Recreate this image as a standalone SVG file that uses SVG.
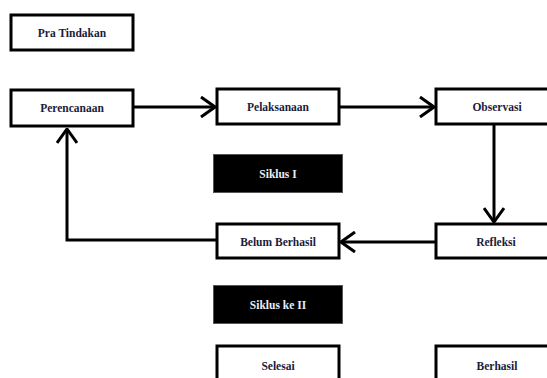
<svg xmlns="http://www.w3.org/2000/svg" width="547" height="378" viewBox="0 0 547 378">
<style>
.box{fill:#fff;stroke:#000;stroke-width:3}
.dark{fill:#000;stroke:#555;stroke-width:1}
.t{font-family:"Liberation Serif",serif;font-weight:bold;font-size:11.5px;fill:#1b1b3a;text-anchor:middle}
.tw{font-family:"Liberation Serif",serif;font-weight:bold;font-size:11.5px;fill:#e8eef8;text-anchor:middle}
.c{fill:none;stroke:#000;stroke-width:3}
</style>
<defs>
<marker id="ah" viewBox="0 0 16 22" refX="15" refY="11" markerWidth="16" markerHeight="22" markerUnits="userSpaceOnUse" orient="auto">
<path d="M1,1 L15,11 L1,21" fill="none" stroke="#000" stroke-width="3"/>
</marker>
</defs>
<rect width="547" height="378" fill="#fff"/>
<g id="connectors">
<line class="c" x1="134" y1="107" x2="215" y2="107" marker-end="url(#ah)"/>
<line class="c" x1="340" y1="107" x2="434" y2="107" marker-end="url(#ah)"/>
<line class="c" x1="494" y1="125" x2="494" y2="222" marker-end="url(#ah)"/>
<line class="c" x1="435" y1="242" x2="341" y2="242" marker-end="url(#ah)"/>
<polyline class="c" points="216,240 67,240 67,129" marker-end="url(#ah)"/>
</g>
<g id="pra"><rect class="box" x="11" y="15" width="122" height="35"/><text class="t" x="72" y="37">Pra Tindakan</text></g>
<g id="perencanaan"><rect class="box" x="11" y="90" width="122" height="36"/><text class="t" x="72" y="112">Perencanaan</text></g>
<g id="pelaksanaan"><rect class="box" x="217" y="89" width="122" height="35"/><text class="t" x="278" y="111">Pelaksanaan</text></g>
<g id="observasi"><rect class="box" x="436" y="89" width="122" height="35"/><text class="t" x="497" y="111">Observasi</text></g>
<g id="siklus1"><rect class="dark" x="213.5" y="154.5" width="129" height="38"/><text class="tw" x="278" y="178">Siklus I</text></g>
<g id="belum"><rect class="box" x="217" y="224" width="122" height="34"/><text class="t" x="278" y="246">Belum Berhasil</text></g>
<g id="refleksi"><rect class="box" x="436" y="224" width="122" height="34"/><text class="t" x="496" y="246">Refleksi</text></g>
<g id="siklus2"><rect class="dark" x="213.5" y="285.5" width="129" height="38"/><text class="tw" x="278" y="309">Siklus ke II</text></g>
<g id="selesai"><rect class="box" x="217" y="346" width="122" height="40"/><text class="t" x="278" y="370">Selesai</text></g>
<g id="berhasil"><rect class="box" x="436" y="346" width="122" height="40"/><text class="t" x="497" y="370">Berhasil</text></g>
</svg>
